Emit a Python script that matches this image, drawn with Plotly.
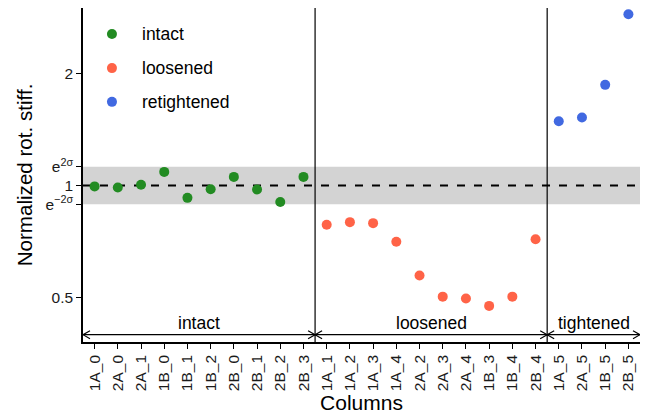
import numpy as np
import plotly.graph_objects as go

# ---- data ----
intact_cols = ["1A_0", "2A_0", "2A_1", "1B_0", "1B_1", "1B_2", "2B_0", "2B_1", "2B_2", "2B_3"]
intact_vals = [0.995, 0.988, 1.005, 1.088, 0.927, 0.978, 1.055, 0.976, 0.904, 1.055]

loosened_cols = ["1A_1", "1A_2", "1A_3", "1A_4", "2A_2", "2A_3", "2A_4", "1B_3", "1B_4", "2B_4"]
loosened_vals = [0.785, 0.798, 0.793, 0.707, 0.574, 0.504, 0.498, 0.476, 0.504, 0.718]

retight_cols = ["1A_5", "2A_5", "1B_5", "2B_5"]
retight_vals = [1.487, 1.521, 1.861, 2.878]

sigma = 0.058
y_ticks = [0.5, 1.0, 2.0]
region_labels = ["intact", "loosened", "tightened"]
legend_names = ["intact", "loosened", "retightened"]
colors = ["#228B22", "#FF6347", "#4169E1"]

# ---- build ----
all_cols = intact_cols + loosened_cols + retight_cols
groups = [intact_cols, loosened_cols, retight_cols]
vals = [intact_vals, loosened_vals, retight_vals]

FONT = "Liberation Sans, Arial, sans-serif"
fig = go.Figure()

# band around 1
fig.add_shape(type="rect", xref="paper", x0=0, x1=1, yref="y",
              y0=np.exp(-2 * sigma), y1=np.exp(2 * sigma),
              fillcolor="#D3D3D3", line_width=0, layer="below")
fig.add_shape(type="line", xref="paper", x0=0, x1=1, yref="y", y0=1, y1=1,
              line=dict(color="black", width=2, dash="8px,9px"), layer="below")

for i, (cols, v) in enumerate(zip(groups, vals)):
    fig.add_trace(go.Scatter(x=cols, y=v, mode="markers", name=legend_names[i],
                             showlegend=False,
                             marker=dict(color=colors[i], size=10)))

# legend (drawn in the top-left corner of the panel)
leg_x_marker = 0.052
leg_x_text = 0.1024
leg_y = [0.922, 0.820, 0.719]
for i, name in enumerate(legend_names):
    fig.add_shape(type="circle", xref="paper", yref="paper", xsizemode="pixel", ysizemode="pixel",
                  xanchor=leg_x_marker, yanchor=leg_y[i], x0=-5, x1=5, y0=-5, y1=5,
                  fillcolor=colors[i], line_width=0)
    fig.add_annotation(x=leg_x_text, y=leg_y[i], xref="paper", yref="paper", text=name,
                       showarrow=False, xanchor="left", yanchor="middle",
                       font=dict(size=17.5, color="black", family=FONT))

# region boundaries
bounds = [-0.5]
for g in groups:
    bounds.append(bounds[-1] + len(g))

for b in bounds[1:-1]:
    fig.add_shape(type="line", xref="x", x0=b, x1=b, yref="paper", y0=0, y1=1,
                  line=dict(color="black", width=1.2))

arrow_y = 0.022
fig.add_shape(type="line", xref="x", x0=bounds[0], x1=bounds[-1], yref="paper",
              y0=arrow_y, y1=arrow_y, line=dict(color="black", width=1.4))
for k in range(len(groups)):
    a, b = bounds[k], bounds[k + 1]
    fig.add_shape(type="path", xref="x", yref="paper", xsizemode="pixel", ysizemode="pixel",
                  xanchor=a, yanchor=arrow_y, path="M 7,4 L 0,0 L 7,-4",
                  line=dict(color="black", width=1.2))
    fig.add_shape(type="path", xref="x", yref="paper", xsizemode="pixel", ysizemode="pixel",
                  xanchor=b, yanchor=arrow_y, path="M -7,4 L 0,0 L -7,-4",
                  line=dict(color="black", width=1.2))

for k, lab in enumerate(region_labels):
    c = (bounds[k] + bounds[k + 1]) / 2
    fig.add_annotation(x=c, y=0.058, xref="x", yref="paper", text=lab, showarrow=False,
                       yanchor="middle",
                       font=dict(size=17.5, color="black", family=FONT))

tickvals = [y_ticks[0], np.exp(-2 * sigma), y_ticks[1], np.exp(2 * sigma), y_ticks[2]]
ticktext = ["0.5", "e<sup>\u22122\u03c3</sup>", "1", "e<sup>2\u03c3</sup>", "2"]

fig.update_layout(
    width=654, height=414,
    margin=dict(l=83, r=14, t=8, b=72, autoexpand=False),
    plot_bgcolor="white", paper_bgcolor="white",
    font=dict(family=FONT, color="black"),
    showlegend=False,
    xaxis=dict(categoryorder="array", categoryarray=all_cols, automargin=False,
               range=[bounds[0], bounds[-1]], showgrid=False, zeroline=False,
               showline=True, linecolor="black", linewidth=1.5,
               ticks="outside", ticklen=5, tickcolor="black", tickangle=-90,
               tickfont=dict(size=15.5, color="#1a1a1a"),
               title=dict(text="Columns", font=dict(size=21), standoff=7)),
    yaxis=dict(type="log", range=[np.log10(0.381), np.log10(2.99)], automargin=False,
               showgrid=False, zeroline=False, showline=True, linecolor="black", linewidth=1.5,
               ticks="outside", ticklen=5, tickcolor="black",
               tickvals=tickvals, ticktext=ticktext,
               tickfont=dict(size=15.5, color="#1a1a1a"),
               title=dict(text="Normalized rot. stiff.", font=dict(size=20.6), standoff=7)),
)

fig.write_html("out.html")
